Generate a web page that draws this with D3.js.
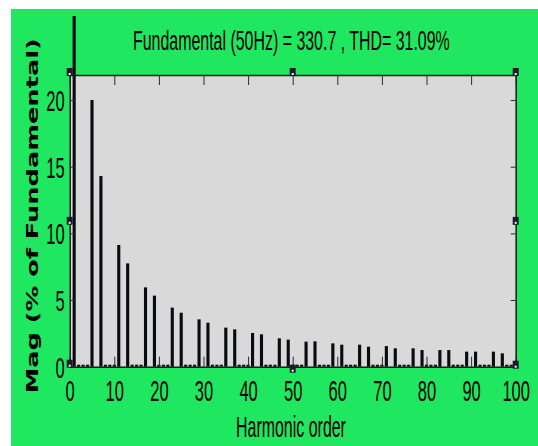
<!DOCTYPE html>
<html>
<head>
<meta charset="utf-8">
<script src="https://cdn.jsdelivr.net/npm/d3@7"></script>
<style>
  html, body { margin: 0; padding: 0; background: #ffffff; }
  svg { display: block; }
</style>
</head>
<body>
<script>
// Harmonic spectrum, magnitudes in % of the fundamental, for harmonic orders 1..100
const magnitudes = [
  100,  0.15, 0.15, 0.15, 20.0, 0,    14.3, 0.15, 0.15, 0.15,   // 1-10
  9.13, 0,    7.75, 0.15, 0.15, 0.15, 5.95, 0,    5.33, 0.15,   // 11-20
  0.15, 0.15, 4.43, 0,    4.05, 0.15, 0.15, 0.15, 3.55, 0,      // 21-30
  3.30, 0.15, 0.15, 0.15, 2.93, 0,    2.80, 0.15, 0.15, 0.15,   // 31-40
  2.53, 0,    2.43, 0.15, 0.15, 0.15, 2.13, 0,    2.03, 0.15,   // 41-50
  0.15, 0.15, 1.88, 0,    1.90, 0.15, 0.15, 0.15, 1.75, 0,      // 51-60
  1.65, 0.15, 0.15, 0.15, 1.65, 0,    1.50, 0.15, 0.15, 0.15,   // 61-70
  1.55, 0,    1.38, 0.15, 0.15, 0.15, 1.38, 0,    1.25, 0.15,   // 71-80
  0.15, 0.15, 1.25, 0,    1.25, 0.15, 0.15, 0.15, 1.13, 0,      // 81-90
  1.13, 0.15, 0.15, 0.15, 1.13, 0,    1.00, 0.15, 0.15, 0       // 91-100
];
const xTicks = [0, 10, 20, 30, 40, 50, 60, 70, 80, 90, 100];
const yTicks = [0, 5, 10, 15, 20];
const yMax = 21.88;
const titleText = "Fundamental (50Hz) = 330.7 , THD= 31.09%";
const xLabelText = "Harmonic order";
const yLabelText = "Mag (% of Fundamental)";

const W = 538, H = 446;
const plot = { left: 69.7, right: 515.7, top: 75, bottom: 366.7 };
const green = "#1fe860";
const narrow = 0.57;            // horizontal squeeze of the condensed lettering

const svg = d3.select("body").append("svg")
  .attr("width", W).attr("height", H);

svg.append("rect").attr("width", W).attr("height", H).attr("fill", "#ffffff");
svg.append("rect").attr("x", 11).attr("y", 9)
  .attr("width", W - 11).attr("height", H - 9).attr("fill", green);

const x = d3.scaleLinear().domain([0, 100]).range([plot.left, plot.right]);
const y = d3.scaleLinear().domain([0, yMax]).range([plot.bottom, plot.top]);

// axes background
svg.append("rect")
  .attr("x", plot.left).attr("y", plot.top)
  .attr("width", plot.right - plot.left).attr("height", plot.bottom - plot.top)
  .attr("fill", "#d9d9d9");

// bars may rise above the axes box (the fundamental does), but stop near the figure top
svg.append("clipPath").attr("id", "barClip")
  .append("rect").attr("x", 0).attr("y", 16).attr("width", W).attr("height", H);

const data = magnitudes.map((v, i) => ({ h: i + 1, v }));
const halfW = 0.35;

svg.append("g").attr("clip-path", "url(#barClip)")
  .selectAll("rect").data(data.filter(d => d.v > 0)).join("rect")
  .attr("x", d => x(d.h - halfW))
  .attr("width", d => x(d.h + halfW) - x(d.h - halfW))
  .attr("y", d => y(d.v))
  .attr("height", d => y(0) - y(d.v))
  .attr("fill", "#0a0a12");

// axes: ticks point inward on all four sides
const axisColor = "#1a1a1a";
function styleAxis(g) {
  g.select(".domain").attr("stroke", axisColor).attr("stroke-width", 1.5);
  g.selectAll(".tick line").attr("stroke", "#2a2a2a").attr("stroke-width", 1);
}

svg.append("g").attr("transform", `translate(0,${plot.top})`)
  .call(d3.axisTop(x).tickValues(xTicks).tickSize(-10).tickSizeOuter(0).tickFormat(""))
  .call(styleAxis);

const xBottom = svg.append("g").attr("transform", `translate(0,${plot.bottom})`)
  .call(d3.axisBottom(x).tickValues(xTicks).tickSize(-10).tickSizeOuter(0))
  .call(styleAxis);

const yLeft = svg.append("g").attr("transform", `translate(${plot.left},0)`)
  .call(d3.axisLeft(y).tickValues(yTicks).tickSize(-5).tickSizeOuter(0))
  .call(styleAxis);

svg.append("g").attr("transform", `translate(${plot.right},0)`)
  .call(d3.axisRight(y).tickValues(yTicks).tickSize(-5).tickSizeOuter(0).tickFormat(""))
  .call(styleAxis);

const labelFont = "'Liberation Sans', Arial, sans-serif";

xBottom.selectAll(".tick text")
  .attr("font-family", labelFont).attr("font-size", 29).attr("fill", "#000")
  .attr("y", 34).attr("dy", null)
  .attr("transform", `scale(${narrow},1)`);

yLeft.selectAll(".tick text")
  .attr("font-family", labelFont).attr("font-size", 29).attr("fill", "#000")
  .attr("x", -5 / narrow).attr("dy", "0.36em")
  .attr("transform", `scale(${narrow},1)`);

// condensed text: measured, then squeezed to the wanted width
function condensedText(str, left, baseline, size, width) {
  const t = svg.append("text")
    .attr("x", 0).attr("y", 0)
    .attr("font-family", labelFont).attr("font-size", size).attr("fill", "#000")
    .text(str);
  const natural = t.node().getComputedTextLength();
  t.attr("transform", `translate(${left},${baseline}) scale(${width / natural},1)`);
  return t;
}

condensedText(titleText, 133, 50, 28, 317);
condensedText(xLabelText, 236, 436.7, 30, 110);

// y label (bold, stretched along the text)
svg.append("text")
  .attr("transform", "translate(37.5,393.3) rotate(-90)")
  .attr("font-family", "'DejaVu Sans', Verdana, sans-serif")
  .attr("font-weight", "bold").attr("font-size", 16).attr("fill", "#000")
  .attr("textLength", 355).attr("lengthAdjust", "spacingAndGlyphs")
  .text(yLabelText);

// selection handles around the axes box
const handles = [
  [x(0), y(yMax) - 3], [x(50), y(yMax) - 3], [x(100), y(yMax) - 3],
  [x(0), y(yMax / 2)], [x(100), y(yMax / 2)],
  [x(0), y(0) - 3], [x(50), y(0) + 2], [x(100), y(0) - 2]
];
const hg = svg.append("g");
hg.selectAll("rect.h").data(handles).join("rect")
  .attr("class", "h")
  .attr("x", d => d[0] - 3).attr("y", d => d[1] - 4)
  .attr("width", 6).attr("height", 8)
  .attr("fill", "#1b1b2e");
hg.selectAll("rect.i").data(handles).join("rect")
  .attr("class", "i")
  .attr("x", d => d[0] - 1).attr("y", d => d[1] + 1)
  .attr("width", 2).attr("height", 2)
  .attr("fill", "#f0f0f0");
</script>
</body>
</html>
